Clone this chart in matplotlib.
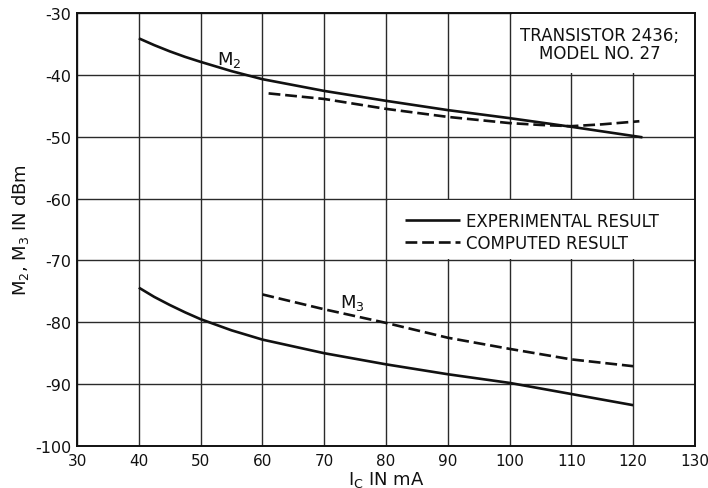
import matplotlib
matplotlib.use("Agg")
import matplotlib.pyplot as plt
from matplotlib.patches import Rectangle

plt.rcParams["font.family"] = ["DejaVu Sans"]
plt.rcParams["lines.scale_dashes"] = False

# Collector current (mA) and distortion products (dBm)
m2_exp_x = [40, 42.5, 45, 47.5, 50, 55, 60, 70, 80, 90, 100, 110, 121.5]
m2_exp_y = [-34.1, -35.2, -36.2, -37.1, -37.9, -39.4, -40.7, -42.6, -44.2, -45.7, -47.0, -48.4, -50.1]

m2_comp_x = [61, 70, 80, 90, 100, 105, 110, 115, 121]
m2_comp_y = [-43.0, -43.9, -45.5, -46.8, -47.8, -48.1, -48.3, -48.0, -47.5]

m3_exp_x = [40, 42.5, 45, 47.5, 50, 55, 60, 70, 80, 90, 100, 110, 120]
m3_exp_y = [-74.4, -75.9, -77.2, -78.4, -79.5, -81.3, -82.8, -85.0, -86.8, -88.4, -89.8, -91.6, -93.4]

m3_comp_x = [60, 70, 80, 90, 100, 110, 120]
m3_comp_y = [-75.5, -77.9, -80.1, -82.5, -84.3, -86.0, -87.1]

x_ticks = list(range(30, 131, 10))
y_ticks = list(range(-100, -29, 10))

fig = plt.figure(figsize=(7.08, 4.89), dpi=100)
ax = fig.add_axes([0.1088, 0.0859, 0.8728, 0.8855])

ink = "#111111"
dash = (0, (8.5, 3.5))
lw = 1.9

ax.plot(m2_exp_x, m2_exp_y, color=ink, lw=lw, solid_capstyle="butt",
        solid_joinstyle="round", label="EXPERIMENTAL RESULT", zorder=3)
ax.plot(m2_comp_x, m2_comp_y, color=ink, lw=lw, linestyle=dash,
        label="COMPUTED RESULT", zorder=3)
ax.plot(m3_exp_x, m3_exp_y, color=ink, lw=lw, solid_capstyle="butt",
        solid_joinstyle="round", zorder=3)
ax.plot(m3_comp_x, m3_comp_y, color=ink, lw=lw, linestyle=dash, zorder=3)

ax.set_xlim(30, 130)
ax.set_ylim(-100, -30)
ax.set_xticks(x_ticks)
ax.set_yticks(y_ticks)
ax.set_xticklabels([str(v) for v in x_ticks])
ax.set_yticklabels([str(v) for v in y_ticks])
ax.tick_params(axis="x", length=0, labelsize=11, colors=ink, pad=5)
ax.tick_params(axis="y", length=0, labelsize=11.5, colors=ink, pad=4)

ax.set_axisbelow(True)
ax.grid(True, color="#2a2a2a", lw=1.0)
for s in ax.spines.values():
    s.set_color(ink)
    s.set_linewidth(1.4)

# blank panels behind the note and the key
ax.add_patch(Rectangle((100.35, -39.75), 29.65, 9.75, facecolor="white",
                       edgecolor="none", zorder=1))
ax.add_patch(Rectangle((80.35, -69.75), 49.65, 9.5, facecolor="white",
                       edgecolor="none", zorder=1))

ax.text(114.6, -35.0, "TRANSISTOR 2436;\nMODEL NO. 27", ha="center", va="center",
        multialignment="center", fontsize=12, color=ink, linespacing=1.0, zorder=4)

ax.text(54.7, -37.5, r"$\mathregular{M_2}$", ha="center", va="center",
        fontsize=13, color=ink, zorder=4)
ax.text(74.6, -76.8, r"$\mathregular{M_3}$", ha="center", va="center",
        fontsize=13, color=ink, zorder=4)

leg = ax.legend(loc="center left", bbox_to_anchor=(0.531, 0.494), frameon=False,
                fontsize=12, handlelength=3.3, handletextpad=0.35,
                labelspacing=0.25, borderpad=0, borderaxespad=0)
for t in leg.get_texts():
    t.set_color(ink)

ax.set_xlabel(r"$\mathregular{I_C}$ IN mA", fontsize=13, color=ink, labelpad=1)
ax.set_ylabel(r"$\mathregular{M_2}$, $\mathregular{M_3}$ IN dBm", fontsize=13,
              color=ink, labelpad=3)

fig.savefig("out.png", dpi=100)
